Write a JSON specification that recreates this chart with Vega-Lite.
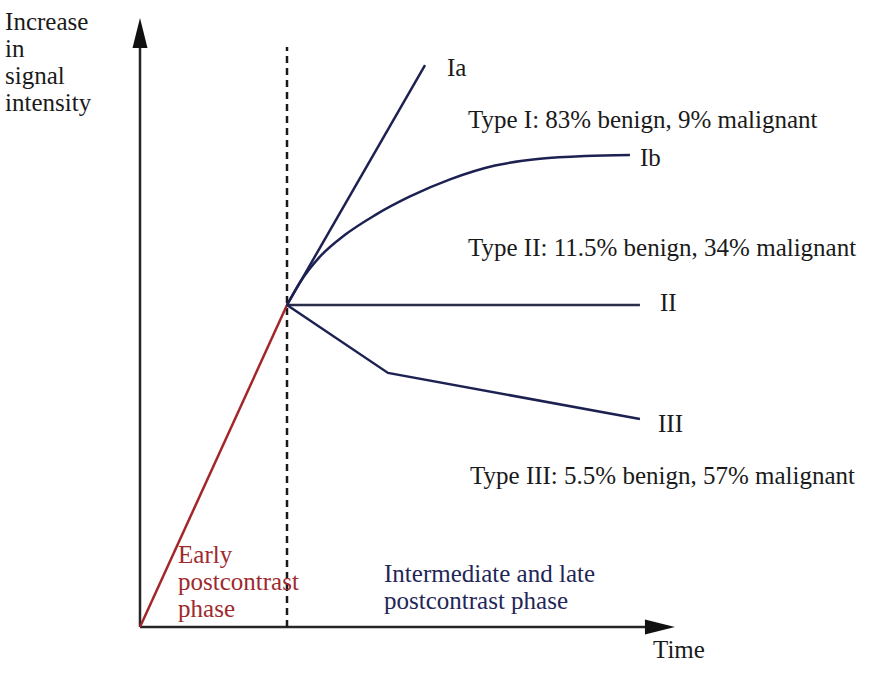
{
  "$schema": "https://vega.github.io/schema/vega-lite/v6.json",
  "width": 889,
  "height": 676,
  "padding": 0,
  "autosize": {"type": "none"},
  "background": "white",
  "config": {"view": {"stroke": null}},
  "resolve": {"scale": {"color": "independent", "shape": "independent"}},
  "datasets": {
    "axes": [
      {"name": "signal axis", "t": 0, "s": 0, "t2": 0, "s2": 1.823},
      {"name": "time axis", "t": 0, "s": 0, "t2": 3.469, "s2": 0}
    ],
    "phase": [
      {"name": "phase boundary", "t": 1, "s": 0, "t2": 1, "s2": 1.801}
    ],
    "arrows": [
      {"dir": "up", "t": 0, "s": 1.845},
      {"dir": "right", "t": 3.537, "s": 0}
    ],
    "curves": [
      {"curve": "early", "i": 0, "t": 0, "s": 0},
      {"curve": "early", "i": 1, "t": 1, "s": 1},
      {"curve": "Ia", "i": 0, "t": 1, "s": 1},
      {"curve": "Ia", "i": 1, "t": 1.939, "s": 1.745},
      {"curve": "II", "i": 0, "t": 1, "s": 1},
      {"curve": "II", "i": 1, "t": 3.401, "s": 1},
      {"curve": "III", "i": 0, "t": 1, "s": 1},
      {"curve": "III", "i": 1, "t": 1.687, "s": 0.789},
      {"curve": "III", "i": 2, "t": 3.401, "s": 0.646}
    ],
    "ib": [
      {"curve": "Ib", "i": 0, "t": 1, "s": 1},
      {"curve": "Ib", "i": 1, "t": 1.088, "s": 1.07},
      {"curve": "Ib", "i": 2, "t": 1.224, "s": 1.15},
      {"curve": "Ib", "i": 3, "t": 1.395, "s": 1.218},
      {"curve": "Ib", "i": 4, "t": 1.599, "s": 1.279},
      {"curve": "Ib", "i": 5, "t": 1.837, "s": 1.337},
      {"curve": "Ib", "i": 6, "t": 2.109, "s": 1.39},
      {"curve": "Ib", "i": 7, "t": 2.415, "s": 1.433},
      {"curve": "Ib", "i": 8, "t": 2.721, "s": 1.454},
      {"curve": "Ib", "i": 9, "t": 3.027, "s": 1.463},
      {"curve": "Ib", "i": 10, "t": 3.333, "s": 1.466}
    ],
    "labels": [
      {"kind": "black", "t": -0.918, "s": 1.88, "text": ["Increase", "in", "signal", "intensity"]},
      {"kind": "black", "t": 2.088, "s": 1.736, "text": ["Ia"]},
      {"kind": "black", "t": 2.231, "s": 1.575, "text": ["Type I: 83% benign, 9% malignant"]},
      {"kind": "black", "t": 3.401, "s": 1.457, "text": ["Ib"]},
      {"kind": "black", "t": 2.231, "s": 1.177, "text": ["Type II: 11.5% benign, 34% malignant"]},
      {"kind": "black", "t": 3.537, "s": 1.006, "text": ["II"]},
      {"kind": "black", "t": 3.524, "s": 0.630, "text": ["III"]},
      {"kind": "black", "t": 2.245, "s": 0.469, "text": ["Type III: 5.5% benign, 57% malignant"]},
      {"kind": "red", "t": 0.259, "s": 0.224, "text": ["Early", "postcontrast", "phase"]},
      {"kind": "navy", "t": 1.660, "s": 0.164, "text": ["Intermediate and late", "postcontrast phase"]},
      {"kind": "black", "t": 3.490, "s": -0.0714, "text": ["Time"]}
    ]
  },
  "layer": [
    {
      "data": {"name": "axes"},
      "mark": {"type": "rule", "color": "#262626", "strokeWidth": 2.5},
      "encoding": {
        "x": {"field": "t", "type": "quantitative", "scale": {"domain": [-0.95238, 5.09524], "nice": false, "zero": false}, "axis": null},
        "y": {"field": "s", "type": "quantitative", "scale": {"domain": [-0.15217, 1.9472], "nice": false, "zero": false}, "axis": null},
        "x2": {"field": "t2"},
        "y2": {"field": "s2"}
      }
    },
    {
      "data": {"name": "phase"},
      "mark": {"type": "rule", "color": "#1a1a1a", "strokeWidth": 2.5, "strokeDash": [7, 5]},
      "encoding": {
        "x": {"field": "t", "type": "quantitative", "scale": {"domain": [-0.95238, 5.09524], "nice": false, "zero": false}, "axis": null},
        "y": {"field": "s", "type": "quantitative", "scale": {"domain": [-0.15217, 1.9472], "nice": false, "zero": false}, "axis": null},
        "x2": {"field": "t2"},
        "y2": {"field": "s2"}
      }
    },
    {
      "data": {"name": "arrows"},
      "mark": {"type": "point", "filled": true, "size": 900, "color": "#111111", "opacity": 1},
      "encoding": {
        "x": {"field": "t", "type": "quantitative", "scale": {"domain": [-0.95238, 5.09524], "nice": false, "zero": false}, "axis": null},
        "y": {"field": "s", "type": "quantitative", "scale": {"domain": [-0.15217, 1.9472], "nice": false, "zero": false}, "axis": null},
        "shape": {"field": "dir", "type": "nominal", "scale": {"domain": ["up", "right"], "range": ["M0,-1L0.5,1L-0.5,1Z", "M1,0L-1,0.5L-1,-0.5Z"]}, "legend": null}
      }
    },
    {
      "data": {"name": "curves"},
      "mark": {"type": "line", "strokeWidth": 2.5},
      "encoding": {
        "x": {"field": "t", "type": "quantitative", "scale": {"domain": [-0.95238, 5.09524], "nice": false, "zero": false}, "axis": null},
        "y": {"field": "s", "type": "quantitative", "scale": {"domain": [-0.15217, 1.9472], "nice": false, "zero": false}, "axis": null},
        "detail": {"field": "curve", "type": "nominal"},
        "order": {"field": "i", "type": "quantitative"},
        "color": {"field": "curve", "type": "nominal", "scale": {"domain": ["early", "Ia", "II", "III"], "range": ["#a3262b", "#1d2152", "#2a2d4a", "#1d2152"]}, "legend": null}
      }
    },
    {
      "data": {"name": "ib"},
      "mark": {"type": "line", "strokeWidth": 2.5, "interpolate": "monotone", "color": "#1d2152"},
      "encoding": {
        "x": {"field": "t", "type": "quantitative", "scale": {"domain": [-0.95238, 5.09524], "nice": false, "zero": false}, "axis": null},
        "y": {"field": "s", "type": "quantitative", "scale": {"domain": [-0.15217, 1.9472], "nice": false, "zero": false}, "axis": null},
        "order": {"field": "i", "type": "quantitative"}
      }
    },
    {
      "data": {"name": "labels"},
      "mark": {"type": "text", "font": "Liberation Serif", "fontSize": 25, "align": "left", "baseline": "middle", "lineHeight": 27},
      "encoding": {
        "x": {"field": "t", "type": "quantitative", "scale": {"domain": [-0.95238, 5.09524], "nice": false, "zero": false}, "axis": null},
        "y": {"field": "s", "type": "quantitative", "scale": {"domain": [-0.15217, 1.9472], "nice": false, "zero": false}, "axis": null},
        "text": {"field": "text"},
        "color": {"field": "kind", "type": "nominal", "scale": {"domain": ["black", "red", "navy"], "range": ["#1a1a1a", "#9e2a2e", "#1f2757"]}, "legend": null}
      }
    }
  ]
}
